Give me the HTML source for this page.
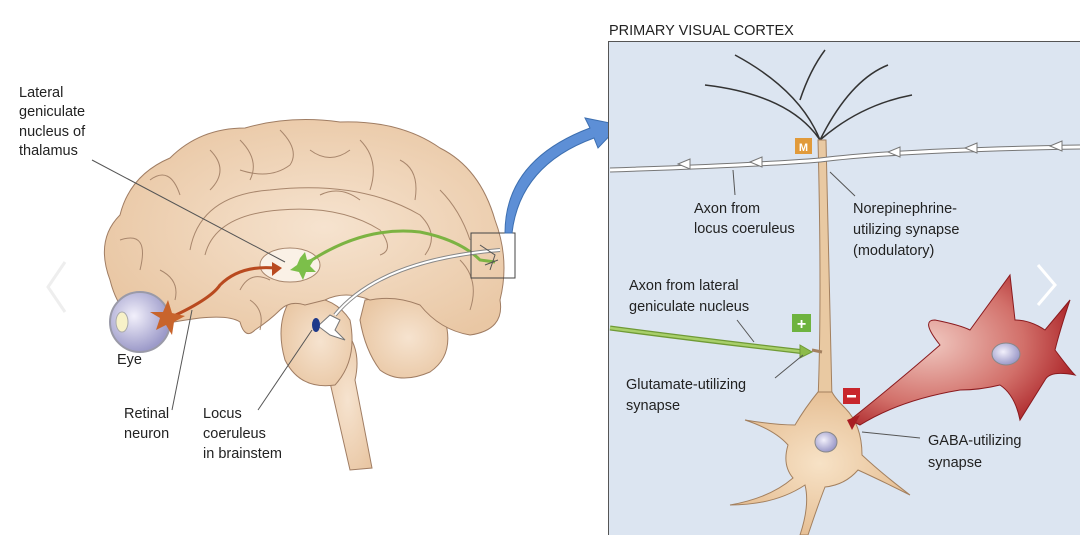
<!DOCTYPE html>
<html><head><meta charset="utf-8"><style>
html,body{margin:0;padding:0;background:#fff;}
svg{display:block;font-family:"Liberation Sans",Arial,sans-serif;}
</style></head><body>
<svg width="1080" height="535" viewBox="0 0 1080 535" xmlns="http://www.w3.org/2000/svg">
<defs>
<radialGradient id="br" cx="0.55" cy="0.5" r="0.6"><stop offset="0" stop-color="#f6e3cf"/><stop offset="1" stop-color="#e9c7a4"/></radialGradient>
<radialGradient id="red" cx="0.35" cy="0.45" r="0.7"><stop offset="0" stop-color="#f0c8c0"/><stop offset="0.6" stop-color="#d2706a"/><stop offset="1" stop-color="#a81d22"/></radialGradient>
<radialGradient id="tan" cx="0.5" cy="0.5" r="0.6"><stop offset="0" stop-color="#f7e2c6"/><stop offset="1" stop-color="#e3b98c"/></radialGradient>
<radialGradient id="eye" cx="0.4" cy="0.4" r="0.6"><stop offset="0" stop-color="#f2f0fb"/><stop offset="1" stop-color="#9c9ac9"/></radialGradient>
</defs>

<g stroke="#a07d63" stroke-width="1" fill="url(#br)">
<path d="M318 330 L350 470 L372 468 L355 380 Q362 350 345 330 Z"/>
<path d="M365 300 Q420 290 445 320 Q455 355 430 372 Q400 385 380 370 Q365 350 360 320 Z"/>
<path d="M290 300 Q330 290 350 320 Q358 360 335 385 Q300 390 285 360 Q275 325 290 300 Z"/>
<path d="M110 280 Q95 240 120 215 Q130 175 170 158 Q200 128 245 128 Q290 115 340 122 Q400 120 440 148 Q480 168 495 220 Q510 260 500 300 Q505 330 470 335 Q440 330 420 305 Q395 295 370 300 Q345 290 325 300 L305 305 Q290 300 280 310 Q270 320 255 330 Q245 340 240 322 Q230 315 200 318 Q170 322 150 327 Q120 320 110 280 Z"/>
</g>
<g fill="none" stroke="#a8866c" stroke-width="1">
<path d="M190 250 Q200 195 270 190 Q360 180 420 215 Q440 235 425 255"/>
<path d="M205 255 Q215 215 280 210 Q340 205 380 230 Q395 250 380 255"/>
<path d="M150 180 Q170 165 180 195 M210 150 Q230 170 210 190 M240 140 Q260 160 250 180 M280 130 Q300 150 290 165 M310 150 Q330 165 350 150 M360 140 Q380 160 370 190 M400 160 Q420 170 415 200 M440 190 Q460 210 470 240 M120 240 Q150 230 140 270 M160 270 Q180 280 175 300 M460 260 Q480 280 470 310 M240 170 Q270 180 290 165 M320 195 Q340 185 360 200"/>
<path d="M240 290 Q250 270 270 280 M250 300 Q265 310 260 330"/>
</g>
<ellipse cx="290" cy="265" rx="30" ry="17" fill="#faf1e6" stroke="#a8866c"/>
<circle cx="140" cy="322" r="30" fill="url(#eye)" stroke="#9a9aa8" stroke-width="2"/>
<ellipse cx="122" cy="322" rx="6" ry="10" fill="#f7f1c8" stroke="#aaa"/>
<path d="M165 320 Q210 300 220 285 Q240 265 275 268" fill="none" stroke="#b94a1f" stroke-width="3"/>
<path d="M160 318 L150 312 L163 312 L168 300 L172 313 L185 316 L174 322 L172 335 L166 325 L156 330 Z" fill="#c8642c"/>
<path d="M272 262 L282 268 L272 276 Z" fill="#b94a1f"/>
<path d="M300 268 Q360 225 420 232 Q460 240 480 260 L495 262" fill="none" stroke="#7cb342" stroke-width="3"/>
<path d="M300 258 L305 252 L307 260 L315 258 L310 266 L316 272 L306 272 L303 280 L299 272 L290 270 L297 265 Z" fill="#7cbf4a"/>
<path d="M335 315 Q380 260 500 250" fill="none" stroke="#888" stroke-width="4"/>
<path d="M335 315 Q380 260 500 250" fill="none" stroke="#fff" stroke-width="2"/>
<path d="M318 326 L330 315 L340 320 L335 330 L345 340 L330 335 Z" fill="#fff" stroke="#777"/>
<ellipse cx="316" cy="325" rx="4" ry="7" fill="#1f3a8a"/>
<rect x="471" y="233" width="44" height="45" fill="none" stroke="#444"/>
<path d="M480 245 L495 255 L490 270 M485 265 L498 260" stroke="#555" fill="none"/>
<path d="M505 233 Q505 160 590 128 L585 118 L620 125 L598 148 L594 138 Q520 165 512 233 Z" fill="#5d8fd6" stroke="#3d6fb0"/>
<path d="M65 262 L48 287 L65 312" fill="none" stroke="#eee" stroke-width="3"/>

<g stroke="#555" stroke-width="1" fill="none">
<path d="M92 160 L285 262"/>
<path d="M172 410 L192 310"/>
<path d="M258 410 L312 330"/>
</g>
<g font-size="14.5" fill="#222">
<text x="19" y="97">Lateral</text>
<text x="19" y="116">geniculate</text>
<text x="19" y="136">nucleus of</text>
<text x="19" y="155">thalamus</text>
<text x="117" y="364">Eye</text>
<text x="124" y="418">Retinal</text>
<text x="124" y="438">neuron</text>
<text x="203" y="418">Locus</text>
<text x="203" y="438">coeruleus</text>
<text x="203" y="458">in brainstem</text>
</g>

<text x="609" y="35" font-size="14.5" fill="#222">PRIMARY VISUAL CORTEX</text>
<rect x="608.5" y="41.5" width="480" height="500" fill="#dce5f1" stroke="#555"/>
<g fill="none" stroke="#333" stroke-width="1.5">
<path d="M820 140 Q800 90 735 55 M820 140 Q850 80 888 65 M820 140 Q790 95 705 85 M820 140 Q860 105 912 95 M800 100 Q810 70 825 50"/>
</g>
<path d="M818 140 L826 140 Q830 300 832 400 L818 400 Q822 300 818 140 Z" fill="#e9c9a2" stroke="#a3805f"/>
<path d="M610 170 Q760 165 820 160 Q900 150 1080 147" fill="none" stroke="#777" stroke-width="5"/>
<path d="M610 170 Q760 165 820 160 Q900 150 1080 147" fill="none" stroke="#fff" stroke-width="3"/>
<g fill="#fff" stroke="#777">
<path d="M678 164 L690 159 L690 169 Z"/><path d="M750 162 L762 157 L762 167 Z"/>
<path d="M888 152 L900 147 L900 157 Z"/><path d="M965 148 L977 143 L977 153 Z"/>
<path d="M1050 146 L1062 141 L1062 151 Z"/>
</g>
<rect x="795" y="138" width="17" height="16" fill="#e19a3a"/>
<text x="803.5" y="151" font-size="11" fill="#fff" text-anchor="middle" font-weight="bold">M</text>
<path d="M610 328 Q700 340 805 352" fill="none" stroke="#6f9a35" stroke-width="5"/>
<path d="M610 328 Q700 340 805 352" fill="none" stroke="#a8cf6a" stroke-width="2.5"/>
<path d="M800 345 L812 352 L800 358 Z" fill="#8cbb4a" stroke="#6f9a35"/>
<path d="M812 350 L822 352" stroke="#a3805f" stroke-width="3"/>
<rect x="792" y="314" width="19" height="18" fill="#6eb33f"/>
<text x="801.5" y="329" font-size="16" fill="#fff" text-anchor="middle" font-weight="bold">+</text>
<!-- soma -->
<path d="M818 392 Q805 408 795 425 Q775 425 745 420 Q775 430 788 445 Q782 465 793 478 Q770 498 730 505 Q775 505 805 485 Q810 505 800 535 L808 535 Q818 505 825 487 Q845 485 858 470 Q880 480 910 495 Q880 472 862 455 Q862 425 845 408 Q835 398 832 392 Z" fill="url(#tan)" stroke="#a3805f"/>
<ellipse cx="826" cy="442" rx="11" ry="10" fill="url(#eye)" stroke="#888"/>
<path d="M850 420 Q900 380 940 345 Q920 320 935 320 Q960 325 970 330 L1010 275 L1015 320 Q1030 320 1045 330 L1070 300 Q1060 330 1055 350 Q1070 370 1075 375 Q1050 370 1045 380 L1020 420 Q1015 395 1000 385 Q980 390 960 390 Q900 400 860 425 Z" fill="url(#red)" stroke="#8a1a1e"/>
<ellipse cx="1006" cy="354" rx="14" ry="11" fill="url(#eye)" stroke="#888"/>
<path d="M847 420 L860 415 L852 430 Z" fill="#a81d22"/>
<rect x="843" y="388" width="17" height="16" fill="#c8262c"/>
<rect x="847" y="395" width="9" height="2.5" fill="#fff"/>
<path d="M1038 265 L1055 285 L1038 305" fill="none" stroke="#fff" stroke-width="3"/>
<g stroke="#555" fill="none">
<path d="M733 170 L735 195"/>
<path d="M830 172 L855 196"/>
<path d="M737 320 L754 342"/>
<path d="M775 378 L803 355"/>
<path d="M862 432 L920 438"/>
</g>
<g font-size="14.5" fill="#222">
<text x="694" y="213">Axon from</text>
<text x="694" y="233">locus coeruleus</text>
<text x="853" y="213">Norepinephrine-</text>
<text x="853" y="234">utilizing synapse</text>
<text x="853" y="255">(modulatory)</text>
<text x="629" y="290">Axon from lateral</text>
<text x="629" y="311">geniculate nucleus</text>
<text x="626" y="389">Glutamate-utilizing</text>
<text x="626" y="410">synapse</text>
<text x="928" y="445">GABA-utilizing</text>
<text x="928" y="467">synapse</text>
</g>
</svg>
</body></html>
